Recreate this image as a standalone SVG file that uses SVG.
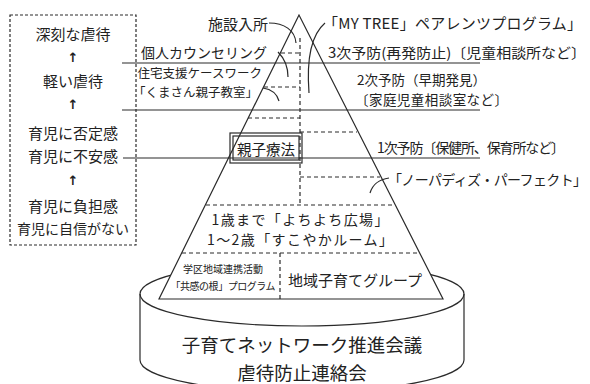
<svg xmlns="http://www.w3.org/2000/svg" width="590" height="384" viewBox="0 0 590 384">
<style>
text{font-family:"Noto Sans CJK JP","Noto Sans",sans-serif;fill:#222;dominant-baseline:central}
.s{stroke:#2a2a2a;stroke-width:1.2;fill:none}
.d{stroke:#2a2a2a;stroke-width:1.2;fill:none;stroke-dasharray:4 3}
.m{text-anchor:middle}
.e{text-anchor:end}
.ar{font-family:"DejaVu Sans",sans-serif;font-weight:bold;font-size:13px}
</style>
<rect width="590" height="384" fill="#fff"/>
<g id="base">
<ellipse class="s" cx="302" cy="294" rx="162" ry="32" fill="#fff"/>
<path class="s" d="M140,294 V360 A162,32 0 0 0 464,360 V294"/>
<text class="m" x="302" y="344" font-size="18.5">子育てネットワーク推進会議</text>
<text class="m" x="302" y="372" font-size="18.5">虐待防止連絡会</text>
</g>
<g id="pyramid">
<polygon points="299,15 159,299 443,299" fill="#fff" stroke="#2a2a2a" stroke-width="1.2"/>
</g>
<g id="leftbox">
<rect class="s" x="10" y="15" width="126" height="230" stroke-dasharray="3 2"/>
<text class="m" x="73" y="33" font-size="15">深刻な虐待</text>
<text class="m ar" x="73" y="57">↑</text>
<text class="m" x="73" y="80" font-size="15">軽い虐待</text>
<text class="m ar" x="73" y="104">↑</text>
<text class="m" x="73" y="132" font-size="15">育児に否定感</text>
<text class="m" x="73" y="155" font-size="15">育児に不安感</text>
<text class="m ar" x="73" y="180">↑</text>
<text class="m" x="73" y="205" font-size="15">育児に負担感</text>
<text class="m" x="73" y="228" font-size="14">育児に自信がない</text>
</g>
<g id="connectors">
<line class="s" x1="122" y1="63" x2="480" y2="63"/>
<line class="s" x1="122" y1="110" x2="480" y2="110"/>
<line class="s" x1="123" y1="158" x2="480" y2="158"/>
<line class="d" x1="300" y1="38" x2="300" y2="205"/>
<line class="d" x1="281" y1="53" x2="300" y2="53"/>
<line class="d" x1="264" y1="87" x2="300" y2="87"/>
<line class="d" x1="248" y1="118" x2="300" y2="118"/>
<line class="d" x1="300" y1="132" x2="357" y2="132"/>
<line class="d" x1="300" y1="177" x2="380" y2="177"/>
<line class="d" x1="206" y1="205" x2="393" y2="205"/>
<line class="d" x1="182" y1="253" x2="419" y2="253"/>
<line class="d" x1="280" y1="253" x2="280" y2="299"/>
<path class="s" d="M269,23 C284,23 295,30 296,43"/>
<path class="s" d="M325,23 Q305,40 309,93"/>
<path class="s" d="M278,52 Q288,62 288,77"/>
<path class="s" d="M263,88 Q276,90 279,101"/>
<path class="s" d="M389,178 Q374,180 370,193"/>
</g>
<g id="labels">
<text class="e" x="268" y="23" font-size="15">施設入所</text>
<text x="323" y="22" font-size="15" textLength="259" lengthAdjust="spacing">「MY TREE」ペアレンツプログラム」</text>
<text class="e" x="267" y="52" font-size="14">個人カウンセリング</text>
<text x="328" y="52" font-size="14" textLength="258" lengthAdjust="spacingAndGlyphs">3次予防(再発防止)〔児童相談所など〕</text>
<text class="e" x="262" y="72" font-size="12.5">住宅支援ケースワーク</text>
<text class="e" x="258" y="91" font-size="12.5">「くまさん親子教室」</text>
<text x="357" y="79" font-size="13.5">2次予防（早期発見）</text>
<text x="355" y="99" font-size="13.5" textLength="153" lengthAdjust="spacing">〔家庭児童相談室など〕</text>
<text x="377" y="147" font-size="14" textLength="188" lengthAdjust="spacing">1次予防〔保健所、保育所など〕</text>
<text x="388" y="179" font-size="14" textLength="199" lengthAdjust="spacing">「ノーパディズ・パーフェクト」</text>
</g>
<g id="oyakoryoho">
<rect class="s" x="230" y="133" width="72" height="30" fill="#fff"/>
<rect class="s" x="233" y="136" width="66" height="24"/>
<text class="m" x="266" y="148" font-size="14.5">親子療法</text>
</g>
<g id="primary">
<text class="m" x="300" y="219" font-size="14" textLength="177" lengthAdjust="spacing">1歳まで「よちよち広場」</text>
<text class="m" x="300" y="239" font-size="14" textLength="186" lengthAdjust="spacing">1～2歳「すこやかルーム」</text>
</g>
<g id="community">
<text class="m" x="223" y="268" font-size="10">学区地域連携活動</text>
<text class="m" x="223" y="285" font-size="10" textLength="105" lengthAdjust="spacing">「共感の根」プログラム</text>
<text class="m" x="355" y="279" font-size="15">地域子育てグループ</text>
</g>
</svg>
